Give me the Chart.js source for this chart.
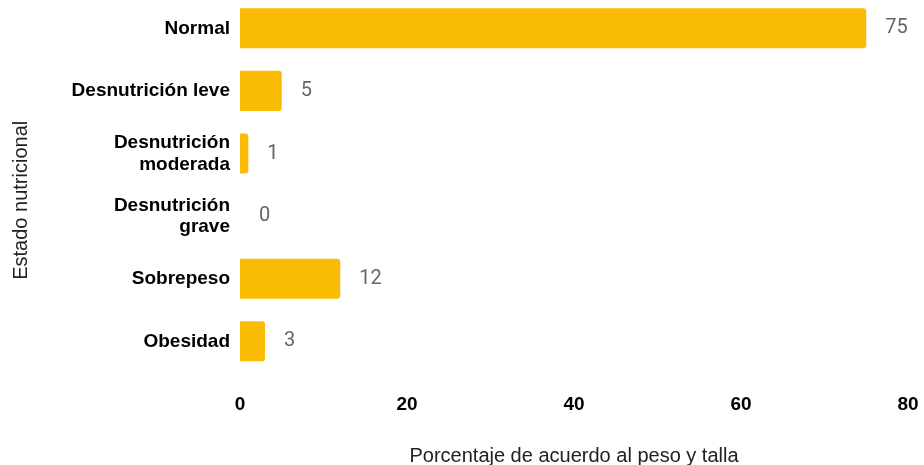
<!DOCTYPE html>
<html>
<head>
<meta charset="utf-8">
<script src="https://cdn.jsdelivr.net/npm/chart.js@4"></script>
<style>
  html, body { margin: 0; padding: 0; background: #fff; overflow: hidden; }
  #wrap { width: 924px; height: 468px; margin-top: -3px; }
</style>
</head>
<body>
<div id="wrap"><canvas id="nutriChart"></canvas></div>
<script>
// Categorie (etichette asse y, multilinea dove serve)
const categorie = [
    'Normal',
    'Desnutrición leve',
    ['Desnutrición', 'moderada'],
    ['Desnutrición', 'grave'],
    'Sobrepeso',
    'Obesidad'
];

// Valori percentuali
const valori = [75, 5, 1, 0, 12, 3];

// Tick asse x
const tickX = [0, 20, 40, 60, 80];

const titoloX = 'Porcentaje de acuerdo al peso y talla';
const titoloY = 'Estado nutricional';

// Plugin per scrivere il valore accanto a ogni barra
const etichetteValori = {
    id: 'etichetteValori',
    afterDatasetsDraw(chart) {
        const ctx = chart.ctx;
        const meta = chart.getDatasetMeta(0);
        ctx.save();
        ctx.font = '20px Roboto';
        ctx.fillStyle = '#666666';
        ctx.textAlign = 'left';
        ctx.textBaseline = 'middle';
        meta.data.forEach((bar, i) => {
            ctx.fillText(String(valori[i]), bar.x + 19, bar.y);
        });
        ctx.restore();
    }
};

// Plugin per il titolo dell'asse y (centrato tra area e tick x)
const titoloAsseY = {
    id: 'titoloAsseY',
    afterDraw(chart) {
        const ctx = chart.ctx;
        const xScale = chart.scales.x;
        const centro = (chart.chartArea.top + xScale.top + 21 + 10) / 2;
        ctx.save();
        ctx.translate(chart.scales.y.left + 21, centro);
        ctx.rotate(-Math.PI / 2);
        ctx.font = '20px "Liberation Sans"';
        ctx.fillStyle = '#222';
        ctx.textAlign = 'center';
        ctx.textBaseline = 'middle';
        ctx.fillText(titoloY, 0, 0);
        ctx.restore();
    }
};

const ctx = document.getElementById('nutriChart').getContext('2d');

const chart = new Chart(ctx, {
    type: 'bar',
    data: {
        labels: categorie,
        datasets: [{
            label: 'Porcentaje',
            data: valori,
            backgroundColor: '#fbbc04',
            borderRadius: 3,
            borderSkipped: 'start',
            barPercentage: 0.64,
            categoryPercentage: 1
        }]
    },
    options: {
        indexAxis: 'y',
        responsive: true,
        maintainAspectRatio: false,
        animation: false,
        layout: {
            padding: { top: 0, right: 16, bottom: 0, left: 0 }
        },
        plugins: {
            legend: { display: false },
            tooltip: { enabled: false }
        },
        scales: {
            x: {
                min: 0,
                max: 80,
                afterBuildTicks: (scale) => {
                    scale.ticks = tickX.map(v => ({ value: v }));
                },
                afterFit: (scale) => {
                    scale.height = 92.4;
                    scale.paddingLeft = 0;
                    scale.paddingRight = 0;
                },
                grid: { display: false, drawTicks: false },
                border: { display: false },
                ticks: {
                    color: '#000',
                    padding: 21,
                    font: { family: 'Liberation Sans', size: 19, weight: 'bold' }
                },
                title: {
                    display: true,
                    text: titoloX,
                    color: '#222',
                    padding: { top: 0, bottom: 0 },
                    font: { family: 'Liberation Sans', size: 20, lineHeight: 0.9 }
                }
            },
            y: {
                afterFit: (scale) => {
                    scale.width = 240;
                    scale.paddingTop = 0;
                    scale.paddingBottom = 0;
                },
                grid: { display: false, drawTicks: false },
                border: { display: false },
                ticks: {
                    color: '#000',
                    padding: 10,
                    font: { family: 'Liberation Sans', size: 19, weight: 'bold', lineHeight: 1.14 }
                }
            }
        }
    },
    plugins: [etichetteValori, titoloAsseY]
});
</script>
</body>
</html>
